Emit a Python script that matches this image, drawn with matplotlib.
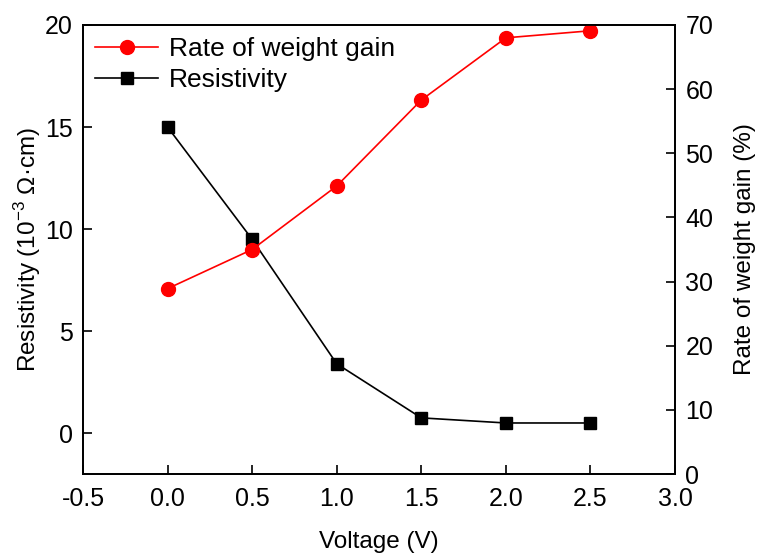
import matplotlib
matplotlib.use("Agg")
import matplotlib.pyplot as plt

plt.rcParams['font.family'] = ['Liberation Sans', 'DejaVu Sans']
plt.rcParams['mathtext.fontset'] = 'custom'
plt.rcParams['mathtext.rm'] = 'Liberation Sans'

voltage = [0.0, 0.5, 1.0, 1.5, 2.0, 2.5]
resistivity = [15.0, 9.5, 3.4, 0.75, 0.5, 0.5]
weight_gain = [28.9, 35.0, 44.9, 58.3, 68.0, 69.1]

x_ticks = [-0.5, 0.0, 0.5, 1.0, 1.5, 2.0, 2.5, 3.0]
left_ticks = [0, 5, 10, 15, 20]
right_ticks = [0, 10, 20, 30, 40, 50, 60, 70]

fig = plt.figure(figsize=(7.61, 5.53), dpi=100)
ax = fig.add_axes([83/761, 1-474/553, (675-83)/761, (474-25)/553])
ax2 = ax.twinx()

l1, = ax2.plot(voltage, weight_gain, color='#ff0000', marker='o', markersize=10,
               linewidth=1.2, label='Rate of weight gain')
l2, = ax.plot(voltage, resistivity, color='black', marker='s', markersize=8.5,
              linewidth=1.2, label='Resistivity')

ax.set_xlim(-0.5, 3.0)
ax.set_ylim(-2, 20)
ax2.set_ylim(0, 70)
ax.set_xticks(x_ticks)
ax.set_xticklabels([f"{v:.1f}" for v in x_ticks])
ax.set_yticks(left_ticks)
ax2.set_yticks(right_ticks)

for a in (ax, ax2):
    a.tick_params(direction='in', length=6.5, width=1.2, labelsize=18, pad=7.5)
    for s in a.spines.values():
        s.set_linewidth(1.3)
ax.tick_params(axis='x', pad=9.5)

ax.set_xlabel('Voltage (V)', fontsize=17.5, labelpad=14)
ax.set_ylabel('Resistivity (10$^{-3}$ Ω·cm)', fontsize=17.5, labelpad=1)
ax2.set_ylabel('Rate of weight gain (%)', fontsize=17.5, labelpad=15)

ax.legend(handles=[l1, l2], loc='upper left', frameon=False, fontsize=19,
          handlelength=2.4, borderaxespad=0.15, borderpad=0.3,
          labelspacing=0.28, handletextpad=0.4)

fig.savefig('out.png', dpi=100)
